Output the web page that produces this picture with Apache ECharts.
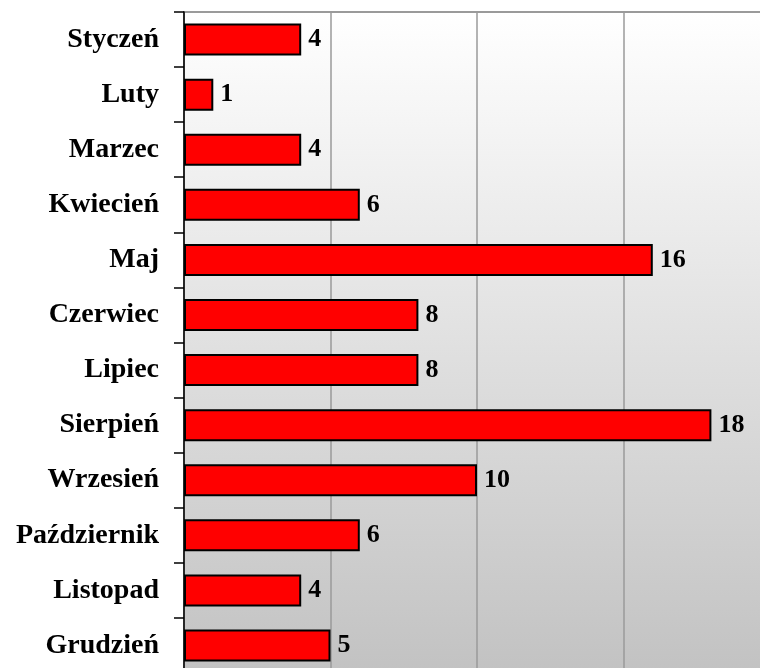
<!DOCTYPE html>
<html>
<head>
<meta charset="utf-8">
<script src="https://cdn.jsdelivr.net/npm/echarts@6/dist/echarts.min.js"></script>
<style>html,body{margin:0;padding:0;background:#fff;}#c{width:760px;height:668px;}</style>
</head>
<body>
<div id="c"></div>
<script>
const months = ['Styczeń','Luty','Marzec','Kwiecień','Maj','Czerwiec','Lipiec','Sierpień','Wrzesień','Październik','Listopad','Grudzień'];
const values = [4,1,4,6,16,8,8,18,10,6,4,5];
const xMin = 0, xMax = 20, xStep = 5;

const chart = echarts.init(document.getElementById('c'), null, {renderer:'canvas'});
chart.setOption({
  animation: false,
  backgroundColor: '#ffffff',
  grid: {
    left: 184, top: 12, width: 586, height: 661,
    outerBoundsMode: 'none', containLabel: false,
    show: true,
    borderColor: '#9a9a9a', borderWidth: 2,
    backgroundColor: {type:'linear', x:0, y:0, x2:0, y2:1,
      colorStops:[{offset:0,color:'#ffffff'},{offset:1,color:'#c2c2c2'}]}
  },
  xAxis: {
    type: 'value', min: xMin, max: xMax, interval: xStep,
    axisLabel: {show:false}, axisLine:{show:false}, axisTick:{show:false},
    splitLine: {show:true, lineStyle:{color:'#9a9a9a', width:1.5}}
  },
  yAxis: {
    type: 'category', data: months, inverse: true,
    axisLine: {show:true, lineStyle:{color:'#000', width:1.5}},
    axisTick: {show:true, length:10, inside:false, lineStyle:{color:'#000', width:1.5}},
    axisLabel: {margin: 25, color:'#000', fontFamily:'Liberation Serif', fontWeight:'bold', fontSize:28},
    splitLine: {show:false}
  },
  series: [{
    type: 'bar', data: values, barWidth: 32,
    itemStyle: {color:'#ff0000', borderColor:'#000', borderWidth:2},
    label: {show:true, position:'right', distance:7, color:'#000', fontFamily:'Liberation Serif', fontWeight:'bold', fontSize:26}
  }]
});
</script>
</body>
</html>
